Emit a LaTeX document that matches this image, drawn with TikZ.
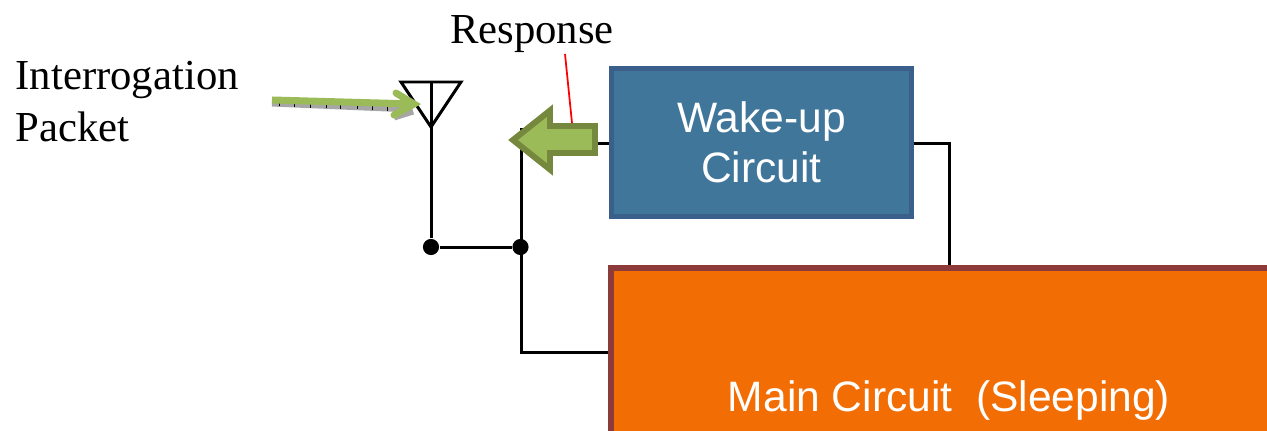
\documentclass[tikz,border=0pt]{standalone}
\usepackage{fontspec}
\setmainfont{Liberation Serif}
\setsansfont{Liberation Sans}
\usetikzlibrary{calc, positioning}
\definecolor{wakefill}{HTML}{41769B}
\definecolor{wakeline}{HTML}{3A5F8B}
\definecolor{mainfill}{HTML}{F26D04}
\definecolor{mainline}{HTML}{8C3A3A}
\definecolor{arrowfill}{HTML}{9BBB59}
\definecolor{arrowline}{HTML}{76883E}
\tikzset{
  wire/.style={line width=.85pt, black},
  junction/.style={circle, fill=black, inner sep=0pt, minimum size=4.6pt},
  circuit/.style={draw, line width=1.5pt, text=white, font=\sffamily\fontsize{12.1}{14.2}\selectfont, align=center, inner sep=0pt},
  caption/.style={font=\fontsize{12.15}{14.2}\selectfont, inner sep=0pt}
}
\begin{document}
\begin{tikzpicture}[>=latex, x=0.01cm, y=-0.01cm]
  \useasboundingbox (0,0) rectangle (1267,430);
  \clip (0,0) rectangle (1267,430);
  % blocks
  \node (wake) at (761.5,142.5) [circuit, fill=wakefill, draw=wakeline, minimum width=300*0.01cm, minimum height=148*0.01cm] {Wake-up\\Circuit};
  \node (main) at (949,400) [circuit, fill=mainfill, draw=mainline, minimum width=676*0.01cm, minimum height=264*0.01cm] {Main Circuit~~(Sleeping)};
  % labels
  \node (interrogation) at (15,80) [caption, anchor=west] {Interrogation};
  \node (packet) at (15,127) [caption, anchor=west] {Packet};
  \node (response) at (532,34) [caption] {Response};
  % antenna
  \coordinate (antleft) at (401,82);
  \coordinate (antright) at (461,82);
  \coordinate (anttip) at (431,127);
  \coordinate (anttop) at (431,82);
  \draw [wire] (antleft) -- (antright) -- (anttip) -- cycle;
  % wires
  \node (joinant) at (431,247) [junction] {};
  \node (joinbus) at (520.5,247) [junction] {};
  \coordinate (bustop) at (521,128);
  \coordinate (busturn) at (521,352);
  \coordinate (wakein) at (521,143);
  \coordinate (wakeout) at (949,143);
  \draw [wire] (anttop) -- (joinant);
  \draw [wire] (joinant) -- (joinbus);
  \draw [wire] (bustop) -- (busturn) -- (busturn -| main.west);
  \draw [wire] (wakein) -- (wakein -| wake.west);
  \draw [wire] (wake.east |- wakeout) -- (wakeout) -- (wakeout |- main.north);
  % response arrow
  \draw [line width=1.7pt, draw=arrowline, fill=arrowfill, line join=miter] (513,140) -- (550,110.5) -- (550,126) -- (595,126) -- (595,153) -- (550,153) -- (550,169.5) -- cycle;
  \coordinate (redfrom) at (565,54);
  \coordinate (redto) at (572,123);
  \draw [red, line width=.5pt] (redfrom) -- (redto);
  % interrogation arrow
  \coordinate (packetfrom) at (272,100);
  \coordinate (packetto) at (414,104);
  \draw [line width=2pt, gray!70] ($(packetfrom)+(0,3)$) -- ($(packetto)+(-3,5)$);
  \draw [line width=2pt, gray!70, line join=round] (394,117) -- ($(packetto)+(-1,7)$);
  \foreach \tickx in {279,294,310,326,340,357,372,387}
    \draw [line width=.25pt, black] (\tickx,{102+(\tickx-272)*0.04}) -- (\tickx,{106+(\tickx-272)*0.04});
  \draw [line width=2pt, arrowfill] (packetfrom) -- (packetto);
  \draw [line width=2pt, arrowfill, line cap=round, line join=miter] (396,93) -- (packetto) -- (394,115);
\end{tikzpicture}
\end{document}
